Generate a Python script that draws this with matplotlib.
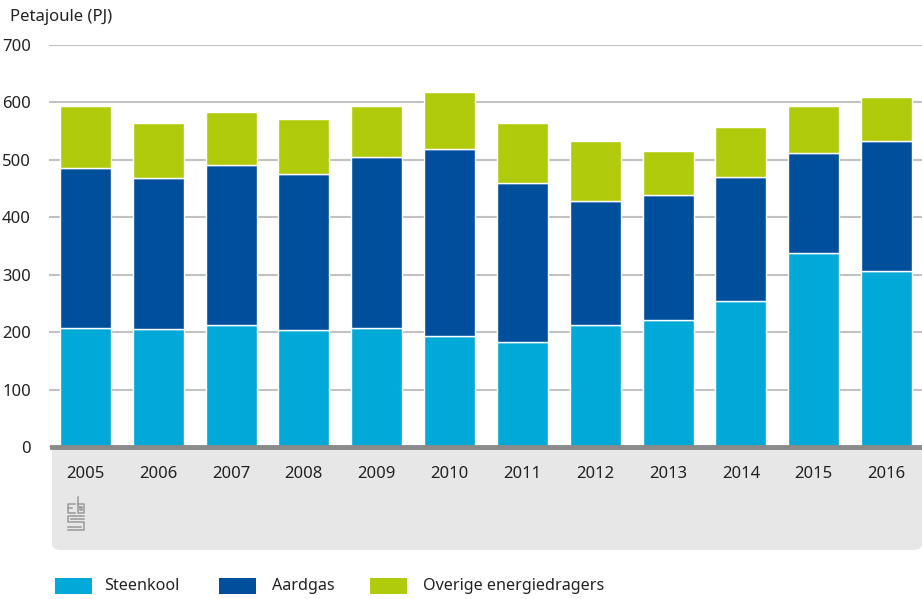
import matplotlib
matplotlib.use("Agg")
import matplotlib.pyplot as plt
from matplotlib.patches import Rectangle, FancyBboxPatch
from matplotlib.lines import Line2D

plt.rcParams['font.family'] = ['Noto Sans', 'DejaVu Sans']

years = ['2005', '2006', '2007', '2008', '2009', '2010', '2011', '2012', '2013', '2014', '2015', '2016']
steenkool = [207, 205, 213, 203, 208, 194, 182, 212, 221, 255, 337, 306]
aardgas = [278, 263, 278, 273, 297, 325, 278, 217, 218, 216, 175, 226]
overige = [109, 97, 92, 95, 89, 100, 105, 103, 77, 87, 81, 78]
series_names = ['Steenkool', 'Aardgas', 'Overige energiedragers']
colors = ['#00a9d8', '#004f9c', '#b0cb0b']
yticks = [0, 100, 200, 300, 400, 500, 600, 700]

W, H = 922, 599
fig = plt.figure(figsize=(W / 100, H / 100), dpi=100)

def fx(px):
    return px / W

def fy(py):
    return 1 - py / H

# grey panel below axis
panel = FancyBboxPatch((fx(52), fy(550)), fx(922) - fx(52), fy(430) - fy(550),
                       boxstyle="round,pad=0,rounding_size=0.01",
                       transform=fig.transFigure, facecolor='#e7e7e7',
                       edgecolor='none', zorder=-5)
fig.patches.append(panel)

ax = fig.add_axes([fx(49), fy(447), fx(923) - fx(49), fy(45) - fy(447)])
ax.set_facecolor('white')
x = list(range(len(years)))
bottom2 = [a + b for a, b in zip(steenkool, aardgas)]
ax.bar(x, steenkool, width=0.70, color=colors[0], edgecolor='white', linewidth=1, zorder=3)
ax.bar(x, aardgas, width=0.70, bottom=steenkool, color=colors[1], edgecolor='white', linewidth=1, zorder=3)
ax.bar(x, overige, width=0.70, bottom=bottom2, color=colors[2], edgecolor='white', linewidth=1, zorder=3)

ax.set_xlim(-0.5, len(years) - 0.5)
ax.set_ylim(0, 700)
ax.set_yticks(yticks)
ax.set_yticklabels([str(v) for v in yticks], fontsize=12, color='#222222')
ax.yaxis.grid(True, color='#c2c2c2', linewidth=1.5, zorder=0)
ax.set_axisbelow(True)
ax.tick_params(axis='y', length=0, pad=13)
ax.set_xticks(x)
ax.set_xticklabels(years, fontsize=12, color='#222222')
ax.tick_params(axis='x', length=0, pad=14)
for s in ax.spines.values():
    s.set_visible(False)
for lbl in ax.get_yticklabels():
    lbl.set_horizontalalignment('right')

# baseline
fig.add_artist(Line2D([fx(52), fx(922)], [fy(447), fy(447)], transform=fig.transFigure,
                      color='#8a8a8a', linewidth=3.5, zorder=10))

# title
fig.text(fx(10), fy(17), 'Petajoule (PJ)', fontsize=12, color='#222222', va='center', ha='left')

# simple CBS logo
lc = '#9a9a9a'
def seg(xs, ys):
    fig.add_artist(Line2D([fx(v) for v in xs], [fy(v) for v in ys], transform=fig.transFigure,
                          color=lc, linewidth=1.1, zorder=5))
seg([75, 68, 68, 75], [504, 504, 513, 513])
seg([72, 68], [508, 508])
seg([78, 78, 84, 84, 78], [497, 513, 513, 504, 504])
seg([80, 82, 82, 80, 80], [507, 507, 510, 510, 507])
seg([84, 68, 68, 84, 84, 68], [516, 516, 522, 522, 530, 530])
seg([71, 84], [519, 519])
seg([68, 81], [527, 527])

# legend
items = [(55, 104), (219, 272), (370, 423)]
for (px, tx), name, c in zip(items, series_names, colors):
    fig.patches.append(Rectangle((fx(px), fy(594)), fx(37), fy(578) - fy(594),
                                 transform=fig.transFigure, facecolor=c, edgecolor='none'))
    fig.text(fx(tx), fy(586), name, fontsize=11.6, color='#222222', va='center', ha='left')

fig.savefig('out.png', dpi=100)
